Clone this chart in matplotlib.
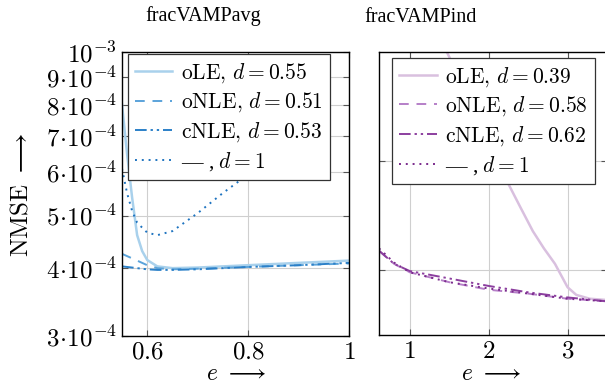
import numpy as np
import matplotlib
matplotlib.use('Agg')
import matplotlib.pyplot as plt
from matplotlib.ticker import FixedLocator, NullLocator

plt.rcParams['font.family'] = ['Liberation Serif', 'DejaVu Serif']
plt.rcParams['mathtext.fontset'] = 'cm'

# ---- data: fracVAMPavg ----
avg_e_ole = [0.55, 0.56, 0.57, 0.58, 0.59, 0.60, 0.62, 0.65, 0.70, 0.80, 0.90, 1.00]
avg_ole = [8.0e-4, 6.5e-4, 5.4e-4, 4.6e-4, 4.3e-4, 4.14e-4, 4.03e-4, 4.0e-4, 4.01e-4, 4.05e-4, 4.09e-4, 4.13e-4]
avg_e = [0.55, 0.58, 0.60, 0.62, 0.65, 0.70, 0.80, 0.90, 1.00]
avg_onle = [4.25e-4, 4.13e-4, 4.05e-4, 4.0e-4, 3.98e-4, 3.99e-4, 4.02e-4, 4.05e-4, 4.08e-4]
avg_cnle = [4.03e-4, 4.0e-4, 3.98e-4, 3.97e-4, 3.97e-4, 3.98e-4, 4.02e-4, 4.05e-4, 4.09e-4]
avg_e_d1 = [0.55, 0.56, 0.57, 0.58, 0.60, 0.62, 0.65, 0.70, 0.75, 0.80, 0.85, 0.90]
avg_d1 = [6.1e-4, 5.5e-4, 5.1e-4, 4.85e-4, 4.65e-4, 4.6e-4, 4.68e-4, 5.05e-4, 5.5e-4, 5.95e-4, 6.5e-4, 7.1e-4]
avg_labels = [r'$\mathrm{oLE},\, d = 0.55$', r'$\mathrm{oNLE},\, d = 0.51$',
              r'$\mathrm{cNLE},\, d = 0.53$', r'— , $d = 1$']

# ---- data: fracVAMPind ----
ind_e_ole = [1.3, 1.47, 1.8, 2.0, 2.23, 2.4, 2.56, 2.7, 2.84, 3.0, 3.11, 3.28, 3.5]
ind_ole = [6.7e-4, 6.25e-4, 5.6e-4, 5.2e-4, 4.8e-4, 4.55e-4, 4.33e-4, 4.18e-4, 4.05e-4, 3.86e-4, 3.8e-4, 3.77e-4, 3.76e-4]
ind_e = [0.61, 0.8, 1.0, 1.5, 2.0, 2.5, 3.0, 3.5]
ind_onle = [4.16e-4, 4.05e-4, 3.98e-4, 3.9e-4, 3.84e-4, 3.81e-4, 3.77e-4, 3.75e-4]
ind_cnle = [4.16e-4, 4.05e-4, 3.99e-4, 3.93e-4, 3.87e-4, 3.82e-4, 3.78e-4, 3.75e-4]
ind_d1 = [4.18e-4, 4.06e-4, 3.98e-4, 3.9e-4, 3.85e-4, 3.81e-4, 3.77e-4, 3.75e-4]
ind_labels = [r'$\mathrm{oLE},\, d = 0.39$', r'$\mathrm{oNLE},\, d = 0.58$',
              r'$\mathrm{cNLE},\, d = 0.62$', r'— , $d = 1$']

blues = ['#a9d1ec', '#5ba3da', '#2b80c8', '#1f74c0']
purples = ['#d9c0df', '#b67fc8', '#8c3f9f', '#7a2a8c']
styles = ['-', (0, (5, 4)), (0, (6, 2, 1.2, 2, 1.2, 2)), (0, (1, 2.5))]
widths = [1.8, 1.4, 1.4, 1.4]

W, H = 605, 387
fig = plt.figure(figsize=(W / 100, H / 100), dpi=100)
ax1 = fig.add_axes([122 / W, 1 - 336 / H, 227 / W, 284 / H])
ax2 = fig.add_axes([379 / W, 1 - 335 / H, 228 / W, 283 / H])

xs1 = [avg_e_ole, avg_e, avg_e, avg_e_d1]
ys1 = [avg_ole, avg_onle, avg_cnle, avg_d1]
for i in range(4):
    ax1.plot(xs1[i], ys1[i], color=blues[i], ls=styles[i], lw=widths[i], label=avg_labels[i])

xs2 = [ind_e_ole, ind_e, ind_e, ind_e]
ys2 = [ind_ole, ind_onle, ind_cnle, ind_d1]
for i in range(4):
    ax2.plot(xs2[i], ys2[i], color=purples[i], ls=styles[i], lw=widths[i], label=ind_labels[i])

for ax in (ax1, ax2):
    ax.set_yscale('log')
    ax.grid(True, color='#cfcfcf', lw=0.8)
    ax.set_axisbelow(True)
    ax.tick_params(which='both', direction='in', top=True, right=True, length=4,
                   labelsize=18, color='#555555', pad=4)
    ax.yaxis.set_minor_locator(NullLocator())
    for s in ax.spines.values():
        s.set_linewidth(1.0)

ax1.set_xlim(0.55, 1.0)
ax1.set_ylim(3e-4, 1e-3)
ax1.xaxis.set_major_locator(FixedLocator([0.6, 0.8, 1.0]))
ax1.set_xticklabels(['$0.6$', '$0.8$', '$1$'])
yt = [3e-4, 4e-4, 5e-4, 6e-4, 7e-4, 8e-4, 9e-4, 1e-3]
ax1.yaxis.set_major_locator(FixedLocator(yt))
ax1.set_yticklabels([r'$%d\!\cdot\!10^{-4}$' % k for k in range(3, 10)] + [r'$10^{-3}$'])

ax2.set_xlim(0.61, 3.5)
ax2.set_ylim(3.5e-4, 6.25e-4)
ax2.xaxis.set_major_locator(FixedLocator([1, 2, 3]))
ax2.set_xticklabels(['$1$', '$2$', '$3$'])
ax2.yaxis.set_major_locator(FixedLocator([4e-4, 5e-4]))
ax2.set_yticklabels([])

leg_kw = dict(loc='upper left', fontsize=15.5, frameon=True, fancybox=False, framealpha=1,
              edgecolor='#333333', borderaxespad=0, handlelength=1.75, handletextpad=0.4,
              labelspacing=0.28, borderpad=0.32)
l1 = ax1.legend(bbox_to_anchor=(0.026, 0.993), **leg_kw)
l2 = ax2.legend(bbox_to_anchor=(0.057, 0.979), **leg_kw)
for l in (l1, l2):
    l.get_frame().set_linewidth(0.9)

fig.text(203 / W, 1 - 16 / H, 'fracVAMPavg', ha='center', va='center', fontsize=14.5)
fig.text(421 / W, 1 - 18 / H, 'fracVAMPind', ha='center', va='center', fontsize=14.5)
fig.text(22 / W, 1 - 195 / H, r'$\mathrm{NMSE}\ \longrightarrow$', rotation=90,
         ha='center', va='center', fontsize=18)
fig.text(236 / W, 1 - 375 / H, r'$e\ \longrightarrow$', ha='center', va='center', fontsize=17)
fig.text(491 / W, 1 - 375 / H, r'$e\ \longrightarrow$', ha='center', va='center', fontsize=17)

fig.savefig('out.png', dpi=100)
